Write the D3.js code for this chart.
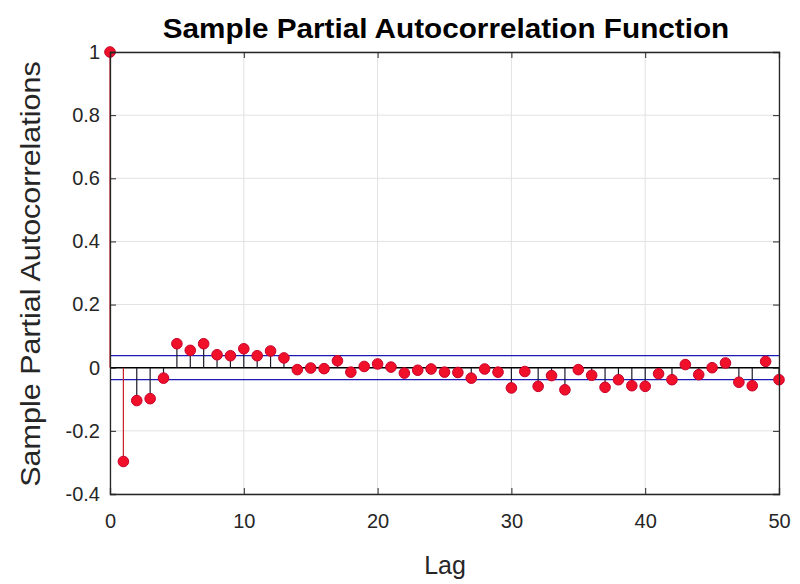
<!DOCTYPE html>
<html><head><meta charset="utf-8">
<script src="https://cdn.jsdelivr.net/npm/d3@7"></script>
<style>
html,body{margin:0;padding:0;background:#fff;}
svg text{font-family:"Liberation Sans",Arial,Helvetica,sans-serif;}
</style></head>
<body><svg id="chart" width="800" height="584"></svg>
<script>
const lags = d3.range(0, 51);
const pacf = [1, -0.297, -0.104, -0.098, -0.033, 0.076, 0.055, 0.076, 0.041, 0.038,
  0.060, 0.038, 0.053, 0.031, -0.006, -0.001, -0.003, 0.022, -0.014, 0.004,
  0.012, 0.002, -0.017, -0.008, -0.004, -0.014, -0.015, -0.033, -0.004, -0.014,
  -0.064, -0.012, -0.059, -0.025, -0.070, -0.006, -0.024, -0.062, -0.038, -0.057,
  -0.059, -0.019, -0.038, 0.010, -0.022, 0.000, 0.015, -0.046, -0.057, 0.020, -0.038];
const bound = 0.038;
const xTicks = [0, 10, 20, 30, 40, 50];
const yTicks = [-0.4, -0.2, 0, 0.2, 0.4, 0.6, 0.8, 1];
const title = "Sample Partial Autocorrelation Function";
const xLabel = "Lag";
const yLabel = "Sample Partial Autocorrelations";

const svg = d3.select("#chart");
const L = 110, R = 779, T = 52, B = 494;
const x = d3.scaleLinear().domain([0, 50]).range([L, R]);
const y = d3.scaleLinear().domain([-0.4, 1]).range([B, T]);
const axisColor = "#262626";

// grid
svg.append("g").selectAll("line").data(xTicks).join("line")
  .attr("x1", d => x(d)).attr("x2", d => x(d)).attr("y1", T).attr("y2", B)
  .attr("stroke", "#e2e2e2").attr("stroke-width", 1);
svg.append("g").selectAll("line").data(yTicks).join("line")
  .attr("y1", d => y(d)).attr("y2", d => y(d)).attr("x1", L).attr("x2", R)
  .attr("stroke", "#e2e2e2").attr("stroke-width", 1);

// zero line and bounds
svg.append("line").attr("x1", L).attr("x2", R).attr("y1", y(0)).attr("y2", y(0))
  .attr("stroke", "#000").attr("stroke-width", 1.5);
svg.append("g").selectAll("line").data([bound, -bound]).join("line")
  .attr("x1", L).attr("x2", R).attr("y1", d => y(d)).attr("y2", d => y(d))
  .attr("stroke", "#1c1cb4").attr("stroke-width", 1.3);

// stems
svg.append("g").selectAll("line").data(lags).join("line")
  .attr("x1", d => x(d)).attr("x2", d => x(d))
  .attr("y1", y(0)).attr("y2", d => y(pacf[d]))
  .attr("stroke", d => d <= 1 ? "#c81e2a" : "#1a1a2a").attr("stroke-width", 1.2);

// markers
svg.append("g").selectAll("circle").data(lags).join("circle")
  .attr("cx", d => x(d)).attr("cy", d => y(pacf[d])).attr("r", 5.3)
  .attr("fill", "#f0102a").attr("stroke", "#c8002a").attr("stroke-width", 1);

// axes (box with inward ticks)
const fmt = d => String(d).replace("\u2212", "-");
const gx = svg.append("g").attr("transform", `translate(0,${B})`)
  .call(d3.axisBottom(x).tickValues(xTicks).tickSize(-6).tickPadding(20).tickFormat(fmt));
const gy = svg.append("g").attr("transform", `translate(${L},0)`)
  .call(d3.axisLeft(y).tickValues(yTicks).tickSize(-6).tickPadding(10).tickFormat(fmt));
const gx2 = svg.append("g").attr("transform", `translate(0,${T})`)
  .call(d3.axisTop(x).tickValues(xTicks).tickSize(-6).tickFormat(""));
const gy2 = svg.append("g").attr("transform", `translate(${R},0)`)
  .call(d3.axisRight(y).tickValues(yTicks).tickSize(-6).tickFormat(""));
[gx, gy, gx2, gy2].forEach(g => {
  g.selectAll("path").attr("stroke", axisColor).attr("stroke-width", 1.3);
  g.selectAll("line").attr("stroke", axisColor);
  g.selectAll("text").attr("fill", axisColor).style("font-size", "20px");
});

svg.append("text").attr("transform", "translate(446,38) scale(1.1,1)").attr("text-anchor", "middle")
  .style("font-size", "27px").style("font-weight", "bold").attr("fill", "#000").text(title);
svg.append("text").attr("x", 445).attr("y", 574).attr("text-anchor", "middle")
  .style("font-size", "25px").attr("fill", axisColor).text(xLabel);
svg.append("text").attr("transform", `translate(40,274) rotate(-90) scale(1.13,1)`)
  .attr("text-anchor", "middle").style("font-size", "27px").attr("fill", axisColor).text(yLabel);
</script></body></html>
